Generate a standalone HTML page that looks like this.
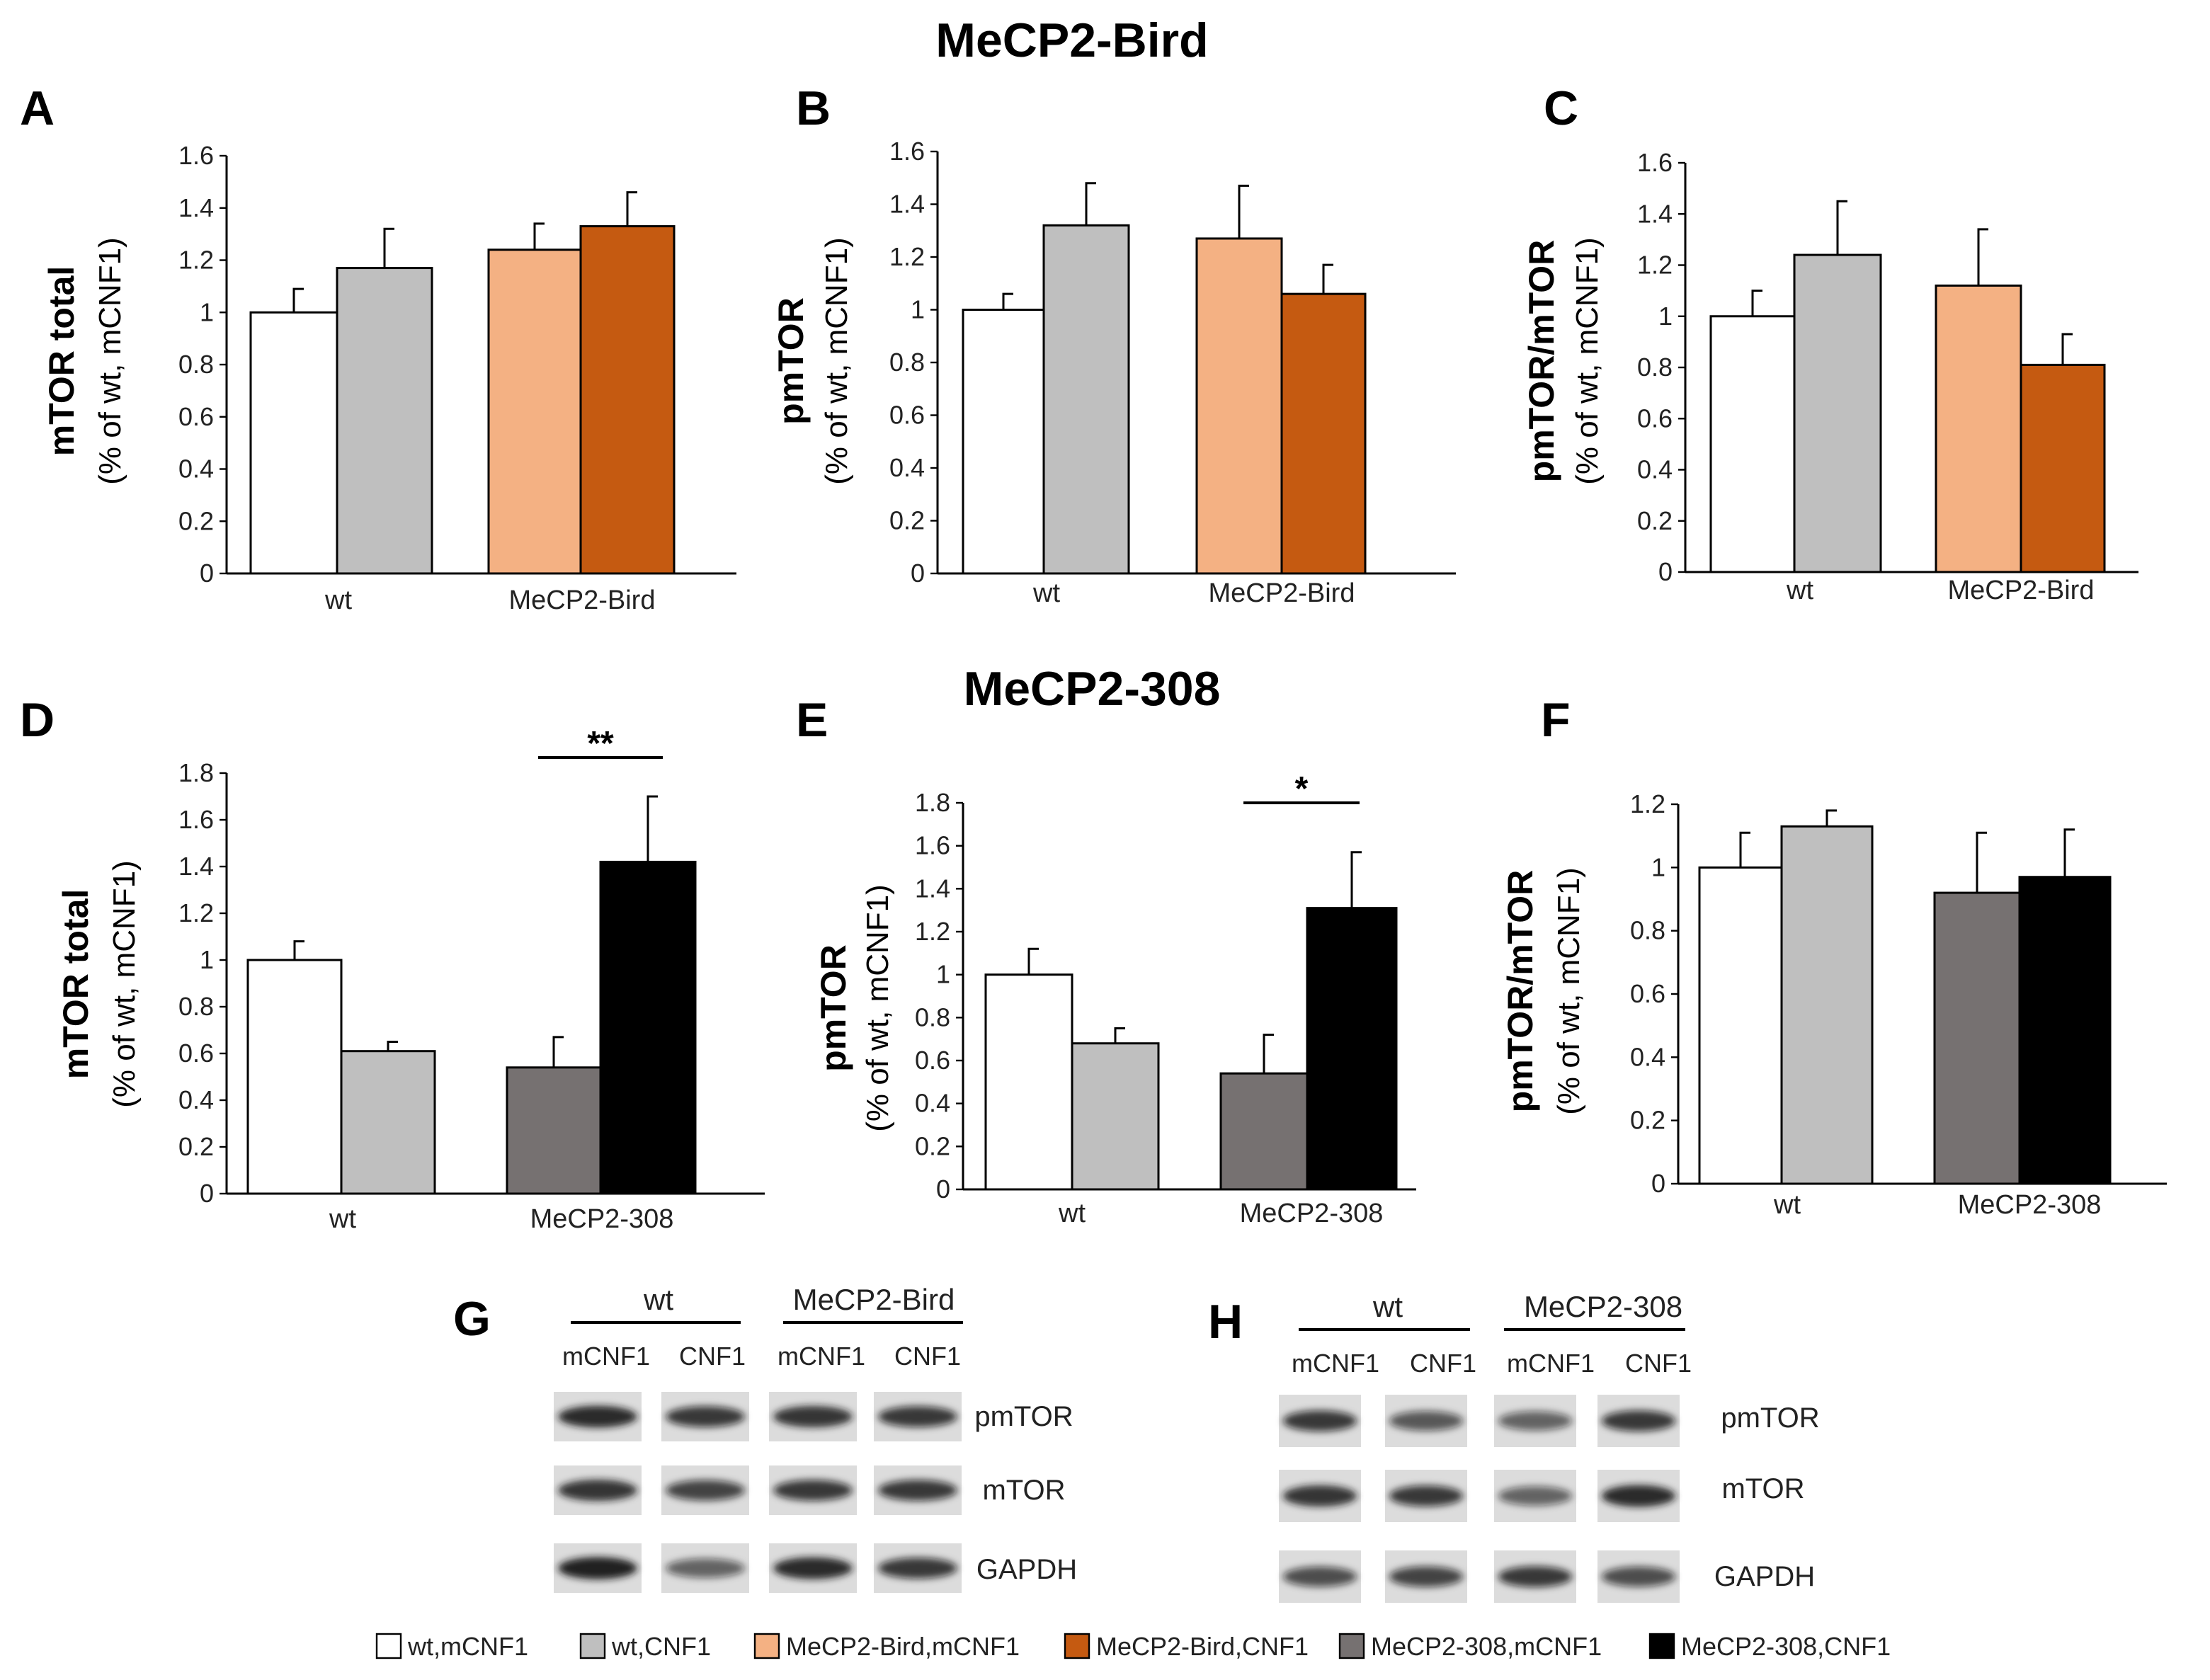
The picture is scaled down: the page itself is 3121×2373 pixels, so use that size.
<!DOCTYPE html>
<html><head><meta charset="utf-8"><style>
html,body{margin:0;padding:0;background:#fff}
svg{display:block}
text{font-family:"Liberation Sans",Arial,sans-serif}
</style></head><body>
<svg id="fig" width="3121" height="2373" viewBox="0 0 1560.5 1186.5" xmlns="http://www.w3.org/2000/svg">
<defs><filter id="blur" x="-20%" y="-100%" width="140%" height="300%"><feGaussianBlur stdDeviation="2.5"/></filter></defs>
<text x="757" y="40" font-size="34" font-weight="bold" text-anchor="middle">MeCP2-Bird</text>
<text x="771" y="498" font-size="34" font-weight="bold" text-anchor="middle">MeCP2-308</text>
<g id="charts"></g>
<g id="blots"></g>
<g id="legend"></g>
</svg>
<script>
const NS="http://www.w3.org/2000/svg";
function mk(tag,attrs,parent,txt){const e=document.createElementNS(NS,tag);for(const k in attrs)e.setAttribute(k,attrs[k]);if(txt!==undefined)e.textContent=txt;parent.appendChild(e);return e;}
const colors={wm:"#ffffff",wc:"#bfbfbf",bm:"#f4b183",bc:"#c55a11",tm:"#767171",tc:"#000000"};

// Data arrays
const categoriesBird=["wt","MeCP2-Bird"];
const categories308=["wt","MeCP2-308"];
const valuesA=[1.0,1.17,1.24,1.33];
const errorsA=[1.09,1.32,1.34,1.46];
const valuesB=[1.0,1.32,1.27,1.06];
const errorsB=[1.06,1.48,1.47,1.17];
const valuesC=[1.0,1.24,1.12,0.81];
const errorsC=[1.1,1.45,1.34,0.93];
const valuesD=[1.0,0.61,0.54,1.42];
const errorsD=[1.08,0.65,0.67,1.7];
const valuesE=[1.0,0.68,0.54,1.31];
const errorsE=[1.12,0.75,0.72,1.57];
const valuesF=[1.0,1.13,0.92,0.97];
const errorsF=[1.11,1.18,1.11,1.12];
const ticks16=["0","0.2","0.4","0.6","0.8","1","1.2","1.4","1.6"];
const ticks18=["0","0.2","0.4","0.6","0.8","1","1.2","1.4","1.6","1.8"];
const ticks12=["0","0.2","0.4","0.6","0.8","1","1.2"];

const panels=[
 {id:"a",L:"A",lx:14,ly:88,ax:160,top:110,bot:405,xend:520,max:1.6,ticks:ticks16,vals:valuesA,errs:errorsA,cats:categoriesBird,cols:["wm","wc","bm","bc"],bars:[177,238,345,410],bw:[61,67,65,66],catx:[239,411],caty:430,t1:"mTOR total",t2:"(% of wt, mCNF1)",tx:52,t2x:85,tcy:255},
 {id:"b",L:"B",lx:562,ly:88,ax:662,top:107,bot:405,xend:1028,max:1.6,ticks:ticks16,vals:valuesB,errs:errorsB,cats:categoriesBird,cols:["wm","wc","bm","bc"],bars:[680,737,845,905],bw:[57,60,60,59],catx:[739,905],caty:425,t1:"pmTOR",t2:"(% of wt, mCNF1)",tx:567,t2x:598,tcy:255},
 {id:"c",L:"C",lx:1090,ly:88,ax:1190,top:115,bot:404,xend:1510,max:1.6,ticks:ticks16,vals:valuesC,errs:errorsC,cats:categoriesBird,cols:["wm","wc","bm","bc"],bars:[1208,1267,1367,1427],bw:[59,61,60,59],catx:[1271,1427],caty:423,t1:"pmTOR/mTOR",t2:"(% of wt, mCNF1)",tx:1097,t2x:1128,tcy:255},
 {id:"d",L:"D",lx:14,ly:520,ax:160,top:546,bot:843,xend:540,max:1.8,ticks:ticks18,vals:valuesD,errs:errorsD,cats:categories308,cols:["wm","wc","tm","tc"],bars:[175,241,358,424],bw:[66,66,66,67],catx:[242,425],caty:867,t1:"mTOR total",t2:"(% of wt, mCNF1)",tx:62,t2x:95,tcy:695,sig:{x1:380,x2:468,y:535,s:"**"}},
 {id:"e",L:"E",lx:562,ly:520,ax:680,top:567,bot:840,xend:1000,max:1.8,ticks:ticks18,vals:valuesE,errs:errorsE,cats:categories308,cols:["wm","wc","tm","tc"],bars:[696,757,862,923],bw:[61,61,61,63],catx:[757,926],caty:863,t1:"pmTOR",t2:"(% of wt, mCNF1)",tx:597,t2x:627,tcy:712,sig:{x1:878,x2:960,y:567,s:"*"}},
 {id:"f",L:"F",lx:1088,ly:520,ax:1185,top:568,bot:836,xend:1530,max:1.2,ticks:ticks12,vals:valuesF,errs:errorsF,cats:categories308,cols:["wm","wc","tm","tc"],bars:[1200,1258,1366,1426],bw:[58,64,60,64],catx:[1262,1433],caty:857,t1:"pmTOR/mTOR",t2:"(% of wt, mCNF1)",tx:1082,t2x:1115,tcy:700}
];
const charts=document.getElementById("charts");
panels.forEach(p=>{
 const g=mk("g",{},charts);
 
 
 const y=v=>p.bot-(v/p.max)*(p.bot-p.top);
 const lab=mk("text",{x:p.lx,y:p.ly,"font-size":34,"font-weight":"bold"},g,p.L);
 
 
 p.vals.forEach((v,i)=>{
  const bx=p.bars[i],w=p.bw[i];
  const r=mk("rect",{x:bx,y:y(v),width:w,height:p.bot-y(v),fill:colors[p.cols[i]],stroke:"#000","stroke-width":1.5},g);
  
  
  const cx=bx+w/2;
  const e=mk("path",{d:`M${cx},${y(v)}V${y(p.errs[i])}H${cx+7}`,stroke:"#000","stroke-width":1.5,fill:"none"},g);
  
  
 });
 const ya=mk("line",{x1:p.ax,y1:p.top,x2:p.ax,y2:p.bot,stroke:"#000","stroke-width":1.5},g);
 
 
 const xa=mk("line",{x1:p.ax,y1:p.bot,x2:p.xend,y2:p.bot,stroke:"#000","stroke-width":1.5},g);
 
 
 p.ticks.forEach(t=>{
  const ty=y(parseFloat(t));
  mk("line",{x1:p.ax-5,y1:ty,x2:p.ax,y2:ty,stroke:"#000","stroke-width":1.2},g);
  const tl=mk("text",{x:p.ax-9,y:ty+6,"font-size":18,"text-anchor":"end",fill:"#222"},g,t);
  
  
 });
 p.cats.forEach((c,i)=>{
  const cl=mk("text",{x:p.catx[i],y:p.caty,"font-size":19,"text-anchor":"middle",fill:"#222"},g,c);
  
  
 });
 const t1=mk("text",{x:p.tx,y:p.tcy,"font-size":25,"font-weight":"bold","text-anchor":"middle",transform:`rotate(-90 ${p.tx} ${p.tcy})`},g,p.t1);
 
 
 const t2=mk("text",{x:p.t2x,y:p.tcy,"font-size":22,"text-anchor":"middle",transform:`rotate(-90 ${p.t2x} ${p.tcy})`},g,p.t2);
 
 
 if(p.sig){
  const sl=mk("line",{x1:p.sig.x1,y1:p.sig.y,x2:p.sig.x2,y2:p.sig.y,stroke:"#000","stroke-width":2},g);
  
  
  const st=mk("text",{x:(p.sig.x1+p.sig.x2)/2,y:p.sig.y-2,"font-size":24,"font-weight":"bold","text-anchor":"middle"},g,p.sig.s);
  
  
 }
});

// Blots
const blots=document.getElementById("blots");
const blotSets=[
 {id:"g",L:"G",lx:320,ly:943,hdr:[["wt",465,403,523],["MeCP2-Bird",617,553,680]],hy:925,ly2:934,sub:[428,503,580,655],suby:964,
  rows:[983,1035,1090],rh:35,lanes:[391,467,543,617],lw:62,names:[["pmTOR",723,1007],["mTOR",723,1059],["GAPDH",725,1115]],
  int:[[0.9,0.8,0.85,0.8],[0.85,0.75,0.8,0.8],[0.95,0.6,0.9,0.8]]},
 {id:"h",L:"H",lx:853,ly:945,hdr:[["wt",980,917,1038],["MeCP2-308",1132,1062,1190]],hy:930,ly2:939,sub:[943,1019,1095,1171],suby:969,
  rows:[985,1038,1095],rh:37,lanes:[903,978,1055,1128],lw:58,names:[["pmTOR",1250,1008],["mTOR",1245,1058],["GAPDH",1246,1120]],
  int:[[0.8,0.65,0.6,0.8],[0.85,0.8,0.6,0.9],[0.7,0.75,0.8,0.7]]}
];
blotSets.forEach(b=>{
 const g=mk("g",{},blots);
 
 
 const l=mk("text",{x:b.lx,y:b.ly,"font-size":34,"font-weight":"bold"},g,b.L);
 
 
 b.hdr.forEach(h=>{
  const t=mk("text",{x:h[1],y:b.hy,"font-size":21,"text-anchor":"middle",fill:"#222"},g,h[0]);
  
  
  mk("line",{x1:h[2],y1:b.ly2,x2:h[3],y2:b.ly2,stroke:"#000","stroke-width":2},g);
 });
 const subs=["mCNF1","CNF1","mCNF1","CNF1"];
 b.sub.forEach((x,i)=>{
  const t=mk("text",{x:x,y:b.suby,"font-size":18,"text-anchor":"middle",fill:"#222"},g,subs[i]);
  
  
 });
 b.rows.forEach((ry,ri)=>{
  b.lanes.forEach((lx,li)=>{
   mk("rect",{x:lx,y:ry,width:b.lw,height:b.rh,fill:"#dcdcdc"},g);
   const k=b.int[ri][li];
   const band=mk("ellipse",{cx:lx+b.lw/2,cy:ry+b.rh/2,rx:b.lw*0.45,ry:5+3*k,fill:`rgba(20,20,20,${k})`,filter:"url(#blur)"},g);
   
   
  });
 });
 b.names.forEach(n=>{
  const t=mk("text",{x:n[1],y:n[2],"font-size":20,"text-anchor":"middle",fill:"#222"},g,n[0]);
  
  
 });
});

// Legend
const legend=document.getElementById("legend");
const legendLabels=["wt,mCNF1","wt,CNF1","MeCP2-Bird,mCNF1","MeCP2-Bird,CNF1","MeCP2-308,mCNF1","MeCP2-308,CNF1"];
const legendKeys=["wm","wc","bm","bc","tm","tc"];
const legendX=[266,410,533,752,946,1165];
legendLabels.forEach((s,i)=>{
 const g=mk("g",{},legend);
 
 
 mk("rect",{x:legendX[i],y:1154,width:17,height:17,fill:colors[legendKeys[i]],stroke:"#000","stroke-width":1.2},g);
 mk("text",{x:legendX[i]+22,y:1169,"font-size":18,fill:"#222"},g,s);
});
</script>
</body></html>
